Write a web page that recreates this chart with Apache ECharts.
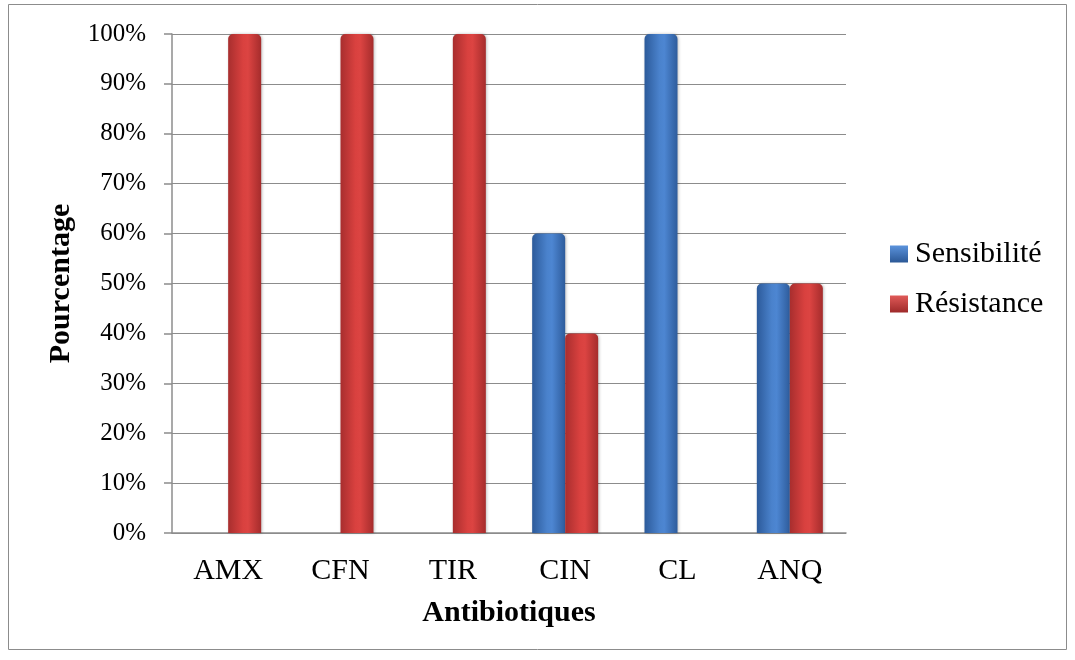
<!DOCTYPE html>
<html><head><meta charset="utf-8">
<script src="https://cdn.jsdelivr.net/npm/echarts@6/dist/echarts.min.js"></script>
<style>html,body{margin:0;padding:0;background:#fff}#c{width:1075px;height:660px}</style>
</head><body><div id="c"></div>
<script>
const categories = ['AMX','CFN','TIR','CIN','CL','ANQ'];
const sensibilite = [0,0,0,60,100,50];
const resistance = [100,100,100,40,0,50];
const yTicks = [0,10,20,30,40,50,60,70,80,90,100];

const blueGrad = {type:'linear',x:0,y:0,x2:1,y2:0,colorStops:[
  {offset:0,color:'#2c5a9a'},{offset:0.45,color:'#4a82cc'},{offset:0.6,color:'#4d86d2'},{offset:1,color:'#2e5c9c'}]};
const redGrad = {type:'linear',x:0,y:0,x2:1,y2:0,colorStops:[
  {offset:0,color:'#a82e2e'},{offset:0.45,color:'#d9413f'},{offset:0.6,color:'#dc4442'},{offset:1,color:'#a52c2c'}]};
const blueIcon = {type:'linear',x:0,y:0,x2:0,y2:1,colorStops:[{offset:0,color:'#5b93dc'},{offset:1,color:'#2b5896'}]};
const redIcon = {type:'linear',x:0,y:0,x2:0,y2:1,colorStops:[{offset:0,color:'#e05a58'},{offset:1,color:'#9e2a2a'}]};

const chart = echarts.init(document.getElementById('c'));
chart.setOption({
  animation:false,
  textStyle:{fontFamily:'Liberation Serif'},
  graphic:[{type:'rect',shape:{x:8.5,y:4.5,width:1058,height:645},style:{fill:'none',stroke:'#8c8c8c',lineWidth:1}}],
  grid:{left:172,top:34,width:674,height:499},
  legend:{
    orient:'vertical',left:890,top:239,padding:0,itemGap:20,itemWidth:18,itemHeight:17,
    icon:'rect',
    textStyle:{fontFamily:'Liberation Serif',fontSize:30,lineHeight:30,color:'#000',padding:[0,0,0,2]},
    data:[{name:'Sensibilité',itemStyle:{color:blueIcon}},{name:'Résistance',itemStyle:{color:redIcon}}]
  },
  xAxis:{
    type:'category',data:categories,
    name:'Antibiotiques',nameLocation:'middle',nameGap:65,
    nameTextStyle:{fontFamily:'Liberation Serif',fontSize:30,fontWeight:'bold',color:'#000'},
    axisLine:{lineStyle:{color:'#8c8c8c',width:1.5}},
    axisTick:{show:false},
    axisLabel:{fontFamily:'Liberation Serif',fontSize:30,color:'#000',margin:23}
  },
  yAxis:{
    type:'value',min:0,max:100,interval:10,
    name:'Pourcentage',nameLocation:'middle',nameGap:96,nameRotate:90,
    nameTextStyle:{fontFamily:'Liberation Serif',fontSize:30,fontWeight:'bold',color:'#000'},
    axisLine:{show:true,lineStyle:{color:'#8c8c8c',width:1.5}},
    axisTick:{show:true,length:8,lineStyle:{color:'#8c8c8c',width:1.5}},
    splitLine:{lineStyle:{color:'#8c8c8c',width:1}},
    axisLabel:{fontFamily:'Liberation Serif',fontSize:25,color:'#000',margin:26,
      formatter:v=>yTicks.includes(v)?v+'%':''}
  },
  series:[
    {name:'Sensibilité',type:'bar',data:sensibilite,barWidth:33,barGap:'0%',
     itemStyle:{color:blueGrad,borderRadius:[5,5,0,0],shadowColor:'rgba(0,0,0,0.25)',shadowBlur:3,shadowOffsetX:1}},
    {name:'Résistance',type:'bar',data:resistance,barWidth:33,barGap:'0%',
     itemStyle:{color:redGrad,borderRadius:[5,5,0,0],shadowColor:'rgba(0,0,0,0.25)',shadowBlur:3,shadowOffsetX:1}}
  ]
});
</script></body></html>
